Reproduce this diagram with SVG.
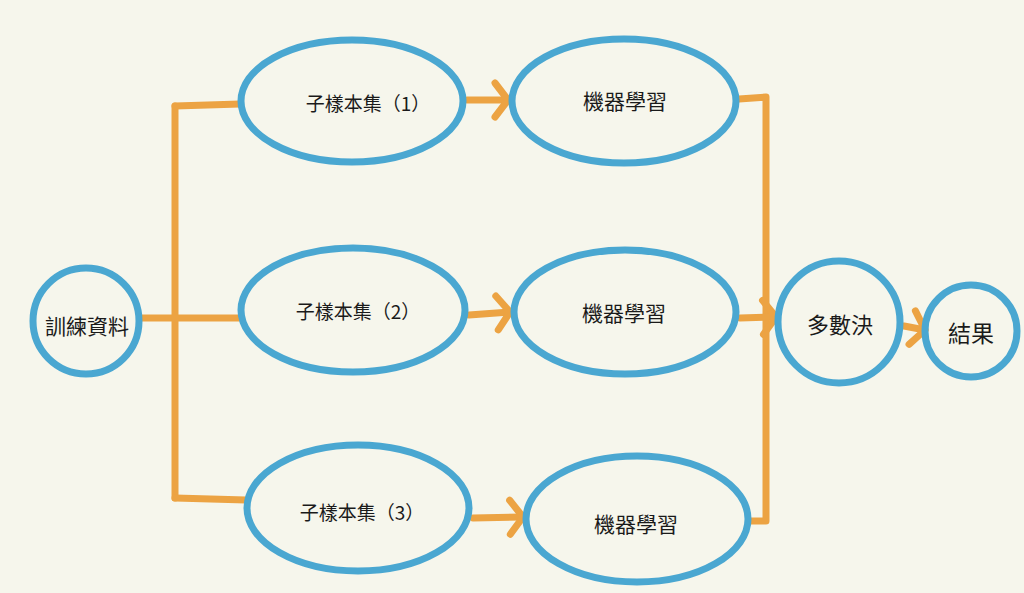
<svg xmlns="http://www.w3.org/2000/svg" width="1024" height="593" viewBox="0 0 1024 593">
<style>
.node{fill:none;stroke:#4aa7d1;stroke-width:7}
.lbl{font-family:"Noto Sans CJK TC","Noto Sans CJK SC",sans-serif;fill:#1a1a1a;text-anchor:middle;dominant-baseline:central}
.c{fill:none;stroke:#eca343;stroke-width:7;stroke-linecap:round;stroke-linejoin:round}
</style>
<defs>
<marker id="ah" markerUnits="userSpaceOnUse" orient="auto" markerWidth="40" markerHeight="40" refX="20" refY="20" viewBox="0 0 40 40" overflow="visible">
<path d="M7,3 L20,20 L7,37" fill="none" stroke="#eca343" stroke-width="7" stroke-linecap="round" stroke-linejoin="round"/>
</marker>
</defs>
<rect width="1024" height="593" fill="#f6f6ec"/>
<g id="connectors">
<path class="c" d="M141,318 H240"/>
<path class="c" d="M175,106 V498"/>
<path class="c" d="M175,106 L240,104"/>
<path class="c" d="M175,498 L246,500"/>
<path class="c" d="M467,100 L508,100" marker-end="url(#ah)"/>
<path class="c" d="M469,315 L510,312" marker-end="url(#ah)"/>
<path class="c" d="M473,518 L523,517" marker-end="url(#ah)"/>
<path class="c" d="M739,99 L766,97 V521 H750"/>
<path class="c" d="M740,318 L776,317" marker-end="url(#ah)"/>
<path class="c" d="M904,326 L925,330" marker-end="url(#ah)"/>
</g>
<g id="n-data"><circle class="node" cx="86" cy="321" r="53"/><text class="lbl" x="87" y="325" font-size="21">訓練資料</text></g>
<g id="n-sub1"><ellipse class="node" cx="352" cy="101" rx="111" ry="61"/><text class="lbl" x="368" y="102" font-size="19">子樣本集（1）</text></g>
<g id="n-ml1"><ellipse class="node" cx="624" cy="101" rx="112" ry="62"/><text class="lbl" x="625" y="100" font-size="21">機器學習</text></g>
<g id="n-sub2"><ellipse class="node" cx="353" cy="310" rx="112" ry="62"/><text class="lbl" x="358" y="310" font-size="19">子樣本集（2）</text></g>
<g id="n-ml2"><ellipse class="node" cx="625" cy="312" rx="111" ry="62"/><text class="lbl" x="624" y="312" font-size="21">機器學習</text></g>
<g id="n-sub3"><ellipse class="node" cx="358" cy="508" rx="111" ry="63"/><text class="lbl" x="362" y="511" font-size="19">子樣本集（3）</text></g>
<g id="n-ml3"><ellipse class="node" cx="637" cy="519" rx="111" ry="63"/><text class="lbl" x="636" y="523" font-size="21">機器學習</text></g>
<g id="n-vote"><circle class="node" cx="839" cy="322" r="61"/><text class="lbl" x="840" y="323" font-size="22">多數決</text></g>
<g id="n-result"><circle class="node" cx="971" cy="331" r="46"/><text class="lbl" x="971" y="332" font-size="23">結果</text></g>
</svg>
